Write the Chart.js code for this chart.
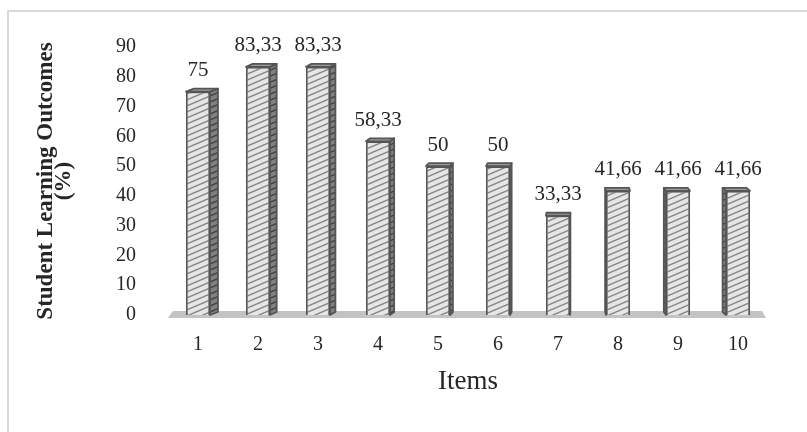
<!DOCTYPE html>
<html>
<head>
<meta charset="utf-8">
<script src="https://cdn.jsdelivr.net/npm/chart.js@4.4.1/dist/chart.umd.min.js"></script>
<style>
body{margin:0;background:#fff;}
#wrap{position:relative;width:807px;height:432px;overflow:hidden;}
#frame{position:absolute;left:7px;top:10px;width:840px;height:470px;border:2px solid #d9d9d9;box-sizing:border-box;}
canvas{position:absolute;left:0;top:0;}
</style>
</head>
<body>
<div id="wrap"><div id="frame"></div><canvas id="myChart" width="807" height="432"></canvas></div>
<script>
// data
let items = ['1','2','3','4','5','6','7','8','9','10'];
let outcomes = [75, 83.33, 83.33, 58.33, 50, 50, 33.33, 41.66, 41.66, 41.66];
let yTitle = ['Student Learning Outcomes', '(%)'];
let xTitle = 'Items';

let serif = "'Liberation Serif', 'DejaVu Serif', serif";

// hatch pattern "/" stripes
function hatch(bg, fg) {
  let c = document.createElement('canvas');
  c.width = 14; c.height = 6;
  let g = c.getContext('2d');
  g.fillStyle = bg;
  g.fillRect(0, 0, 14, 6);
  g.strokeStyle = fg;
  g.lineWidth = 1.4;
  g.beginPath();
  g.moveTo(-14, 12); g.lineTo(28, -6);
  g.moveTo(-28, 12); g.lineTo(14, -6);
  g.moveTo(0, 12); g.lineTo(42, -6);
  g.stroke();
  return g.createPattern(c, 'repeat');
}
let frontFill = hatch('#e6e6e6', '#858585');
let sideFill = hatch('#808080', '#404040');

// floor, side/top faces and value labels
const bar3d = {
  id: 'bar3d',
  beforeDatasetsDraw(chart) {
    let ctx = chart.ctx, a = chart.chartArea;
    let y0 = chart.scales.y.getPixelForValue(0);
    ctx.save();
    ctx.fillStyle = '#c3c3c3';
    ctx.beginPath();
    ctx.moveTo(a.left + 5, y0 - 4);
    ctx.lineTo(a.right - 6, y0 - 4);
    ctx.lineTo(a.right - 2, y0 + 3);
    ctx.lineTo(a.left, y0 + 3);
    ctx.closePath();
    ctx.fill();
    ctx.restore();
  },
  afterDatasetsDraw(chart) {
    let ctx = chart.ctx;
    let meta = chart.getDatasetMeta(0);
    let vx = chart.scales.x.getPixelForValue(6.3);
    ctx.save();
    ctx.lineWidth = 1.8;
    ctx.strokeStyle = '#555555';
    ctx.lineJoin = 'round';
    meta.data.forEach((bar, i) => {
      let half = bar.width / 2;
      let l = bar.x - half, r = bar.x + half;
      let d = (vx - bar.x) * 0.021;
      let up = 3;
      let edge = d > 0 ? r : l;
      // side
      ctx.fillStyle = sideFill;
      ctx.beginPath();
      ctx.moveTo(edge, bar.y);
      ctx.lineTo(edge + d, bar.y - up);
      ctx.lineTo(edge + d, bar.base - up);
      ctx.lineTo(edge, bar.base);
      ctx.closePath();
      ctx.fill();
      ctx.stroke();
      // top
      ctx.fillStyle = '#9a9a9a';
      ctx.beginPath();
      ctx.moveTo(l, bar.y);
      ctx.lineTo(l + d, bar.y - up);
      ctx.lineTo(r + d, bar.y - up);
      ctx.lineTo(r, bar.y);
      ctx.closePath();
      ctx.fill();
      ctx.stroke();
      // value label
      ctx.fillStyle = '#262626';
      ctx.font = '21px ' + serif;
      ctx.textAlign = 'center';
      ctx.textBaseline = 'middle';
      ctx.fillText(String(outcomes[i]).replace('.', ','), bar.x, bar.y - 21);
    });
    ctx.restore();
  }
};

let ctx = document.getElementById('myChart').getContext('2d');
let myChart = new Chart(ctx, {
  type: 'bar',
  data: {
    labels: items,
    datasets: [{
      data: outcomes,
      backgroundColor: frontFill,
      borderColor: '#555555',
      borderWidth: 1.8,
      barPercentage: 0.8,
      categoryPercentage: 0.5
    }]
  },
  options: {
    responsive: false,
    animation: false,
    layout: { padding: { top: 47, right: 39, left: 0, bottom: 0 } },
    plugins: { legend: { display: false }, tooltip: { enabled: false } },
    scales: {
      x: {
        grid: { display: false, drawTicks: false },
        border: { display: false },
        ticks: { color: '#262626', font: { family: serif, size: 20 }, padding: 18 },
        title: { display: true, text: xTitle, color: '#262626', font: { family: serif, size: 27 }, padding: { top: 0, bottom: 34 } },
        afterFit(s) { s.height = 117; }
      },
      y: {
        min: 0, max: 90,
        grid: { display: false, drawTicks: false },
        border: { display: false },
        ticks: { stepSize: 10, color: '#262626', font: { family: serif, size: 20 }, padding: 32 },
        title: { display: true, text: yTitle, color: '#262626', font: { family: serif, size: 23, weight: 'bold', lineHeight: '18px' }, padding: { top: 37, bottom: 0 } },
        afterFit(s) { s.width = 168; }
      }
    }
  },
  plugins: [bar3d]
});
</script>
</body>
</html>
